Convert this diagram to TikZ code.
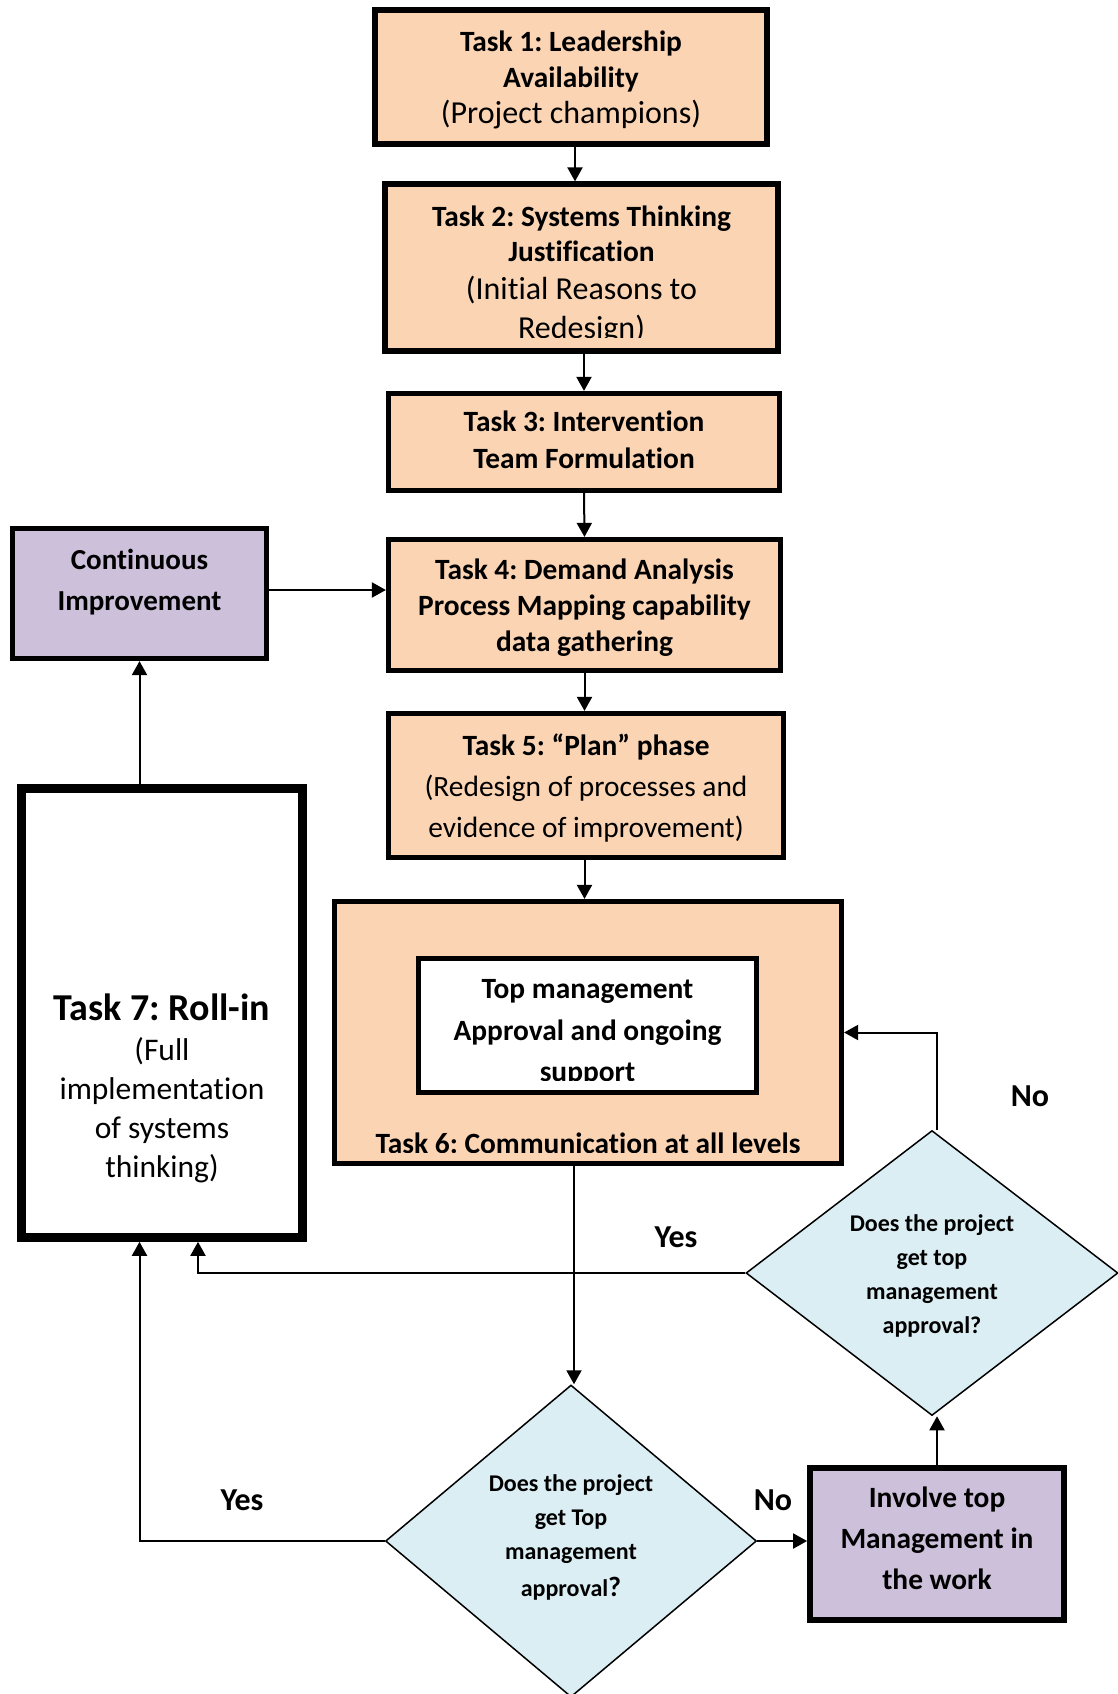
\documentclass[tikz,border=0pt]{standalone}
\usepackage{fontspec}
\setmainfont{Carlito}[Ligatures=NoCommon]
\usetikzlibrary{shapes.geometric,arrows.meta}

\definecolor{peach}{HTML}{FBD4B4}
\definecolor{lilac}{HTML}{CCC0DA}
\definecolor{paleblue}{HTML}{DBEEF3}

% bold heading text used inside the task boxes
\newcommand\boldpart[1]{{\fontsize{29.4}{36}\selectfont\bfseries #1}}

\tikzset{
  box/.style={draw=black, line width=5.2pt, rectangle, inner sep=0pt},
  taskbox/.style={box, fill=peach},
  sidebox/.style={box, fill=lilac},
  decision/.style={diamond, draw=black, line width=1.5pt, fill=paleblue, inner sep=0pt},
  boxtext/.style={inner sep=0pt, align=center},
  bodytext/.style={boxtext, font=\fontsize{29.4}{36.5}\selectfont\bfseries},
  asktext/.style={boxtext, font=\fontsize{24}{34}\selectfont\bfseries},
  answer/.style={inner sep=0pt, font=\fontsize{32}{38}\selectfont\bfseries},
  arr/.style={line width=2pt, -{Triangle[length=14pt,width=15pt]}},
}

\begin{document}
\frenchspacing
\begin{tikzpicture}[x=1pt,y=-1pt]
\useasboundingbox[fill=white] (0,0) rectangle (1117,1694);

% main chain of tasks
\node[taskbox, minimum width=392pt, minimum height=134pt,
  path picture={\node[boxtext, font=\fontsize{32}{36}\selectfont] (t1text)
     at ([yshift=-3pt]path picture bounding box.center)
     {\boldpart{Task 1: Leadership}\\\boldpart{Availability}\\(Project champions)};}]
  (t1) at (571,77) {};

\node[taskbox, minimum width=393pt, minimum height=167pt,
  path picture={
     \clip (path picture bounding box.north west) rectangle ([yshift=14pt]path picture bounding box.south east);
     \node[boxtext, font=\fontsize{32}{38.5}\selectfont] (t2text)
     at ([yshift=-7pt]path picture bounding box.center)
     {\boldpart{Task 2: Systems Thinking}\\[-3.5pt]\boldpart{Justification}\\(Initial Reasons to\\Redesign)};}]
  (t2) at (581.5,267.5) {};

\node[taskbox, minimum width=391pt, minimum height=97pt,
  path picture={\node[bodytext] (t3text) at ([yshift=2pt]path picture bounding box.center)
     {Task 3: Intervention\\Team Formulation};}]
  (t3) at (584,442) {};

\node[taskbox, minimum width=392pt, minimum height=131pt,
  path picture={\node[bodytext, font=\fontsize{29.4}{36}\selectfont\bfseries] (t4text)
     at ([yshift=-3pt]path picture bounding box.center)
     {Task 4: Demand Analysis\\Process Mapping capability\\data gathering};}]
  (t4) at (584.5,605) {};

\node[taskbox, minimum width=395pt, minimum height=144pt,
  path picture={\node[boxtext, font=\fontsize{29.4}{41}\selectfont] (t5text)
     at ([yshift=-3pt]path picture bounding box.center)
     {\textbf{Task 5: “Plan” phase}\\(Redesign of processes and\\evidence of improvement)};}]
  (t5) at (586,785.5) {};

\node[taskbox, minimum width=507pt, minimum height=262pt,
  path picture={
     \clip (path picture bounding box.north west) rectangle ([yshift=11.5pt]path picture bounding box.south east);
     \node[bodytext] (t6text) at ([yshift=-111pt]path picture bounding box.center)
     {Task 6: Communication at all levels};}]
  (t6) at (588,1032.5) {};

\node[box, fill=white, minimum width=338pt, minimum height=134pt,
  path picture={
     \clip (path picture bounding box.north west) rectangle ([yshift=12.5pt]path picture bounding box.south east);
     \node[bodytext, font=\fontsize{29.4}{41.5}\selectfont\bfseries] (mgmttext)
     at ([yshift=-7.5pt]path picture bounding box.center)
     {Top management\\Approval and ongoing\\support};}]
  (mgmt) at (587.5,1025.5) {};

% left column
\node[sidebox, minimum width=254pt, minimum height=130pt,
  path picture={\node[bodytext, font=\fontsize{29}{41}\selectfont\bfseries] (citext)
     at ([yshift=11pt]path picture bounding box.center) {Continuous\\Improvement};}]
  (ci) at (139.5,593.5) {};

\node[box, fill=white, line width=8.6pt, minimum width=281pt, minimum height=449pt,
  path picture={\node[boxtext, font=\fontsize{31.5}{39}\selectfont] (t7text)
     at ([yshift=-75pt]path picture bounding box.center)
     {{\fontsize{38}{39}\selectfont\bfseries Task 7: Roll-in}\\[1pt](Full\\implementation\\of systems\\thinking)};}]
  (t7) at (162,1013) {};

% decisions
\node[decision, minimum width=371pt, minimum height=312pt,
  path picture={\node[asktext] (d1text) at ([yshift=4pt]path picture bounding box.center)
     {Does the project\\get Top\\management\\[3pt]approval{\fontsize{28}{34}\selectfont ?}};}]
  (d1) at (571,1541) {};

\node[decision, minimum width=372pt, minimum height=285pt,
  path picture={\node[asktext, font=\fontsize{24}{33.8}\selectfont\bfseries] (d2text)
     at ([yshift=-3pt]path picture bounding box.center)
     {Does the project\\get top\\management\\approval?};}]
  (d2) at (932,1273) {};

\node[sidebox, line width=5.8pt, minimum width=254pt, minimum height=152pt,
  path picture={\node[bodytext, font=\fontsize{29.4}{41}\selectfont\bfseries] (invtext)
     at ([yshift=6pt]path picture bounding box.center)
     {Involve top\\Management in\\the work};}]
  (inv) at (937,1544) {};

% answer labels
\node[answer] (noA)  at (1030,1096) {No};
\node[answer] (yesA) at (676,1237)  {Yes};
\node[answer] (yesB) at (242,1500)  {Yes};
\node[answer] (noB)  at (773,1500)  {No};

% connectors
\draw[arr] ([xshift=4pt]t1.south) -- ([xshift=4pt]t1.south |- t2.north);
\draw[arr] (t3.north |- t2.south) -- (t3.north);
\draw[arr] (t3.south) -- (t4.north);
\draw[arr] (t4.south) -- (t4.south |- t5.north);
\draw[arr] (t4.south |- t5.south) -- (t4.south |- t6.north);
\draw[arr] (ci.east |- 0,590) -- (t4.west |- 0,590);
\draw[arr] (ci.south |- t7.north) -- (ci.south);
\draw[arr] ([xshift=3pt]d1.north |- t6.south) -- ([xshift=3pt]d1.north);
\draw[arr] (d1.west) -| (ci.south |- t7.south);
\draw[arr] (d2.west) -| ([xshift=36pt]t7.south);
\draw[arr] (d1.east) -- (inv.west |- d1.east);
\draw[arr] (inv.north) -- (inv.north |- d2.south);
\draw[arr] (inv.north |- d2.north) |- (t6.east);
\end{tikzpicture}
\end{document}
